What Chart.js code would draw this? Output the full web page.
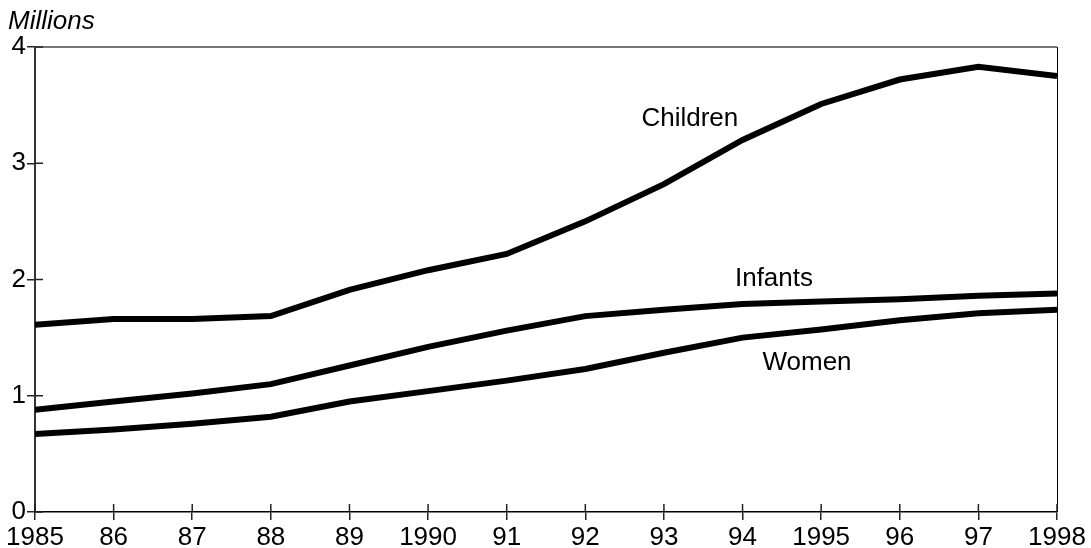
<!DOCTYPE html>
<html>
<head>
<meta charset="utf-8">
<script src="https://cdn.jsdelivr.net/npm/chart.js@4/dist/chart.umd.min.js"></script>
<style>
  html, body { margin: 0; padding: 0; background: #fff; }
  canvas { display: block; }
</style>
</head>
<body>
<canvas id="chart" width="1091" height="548"></canvas>
<script>
const years = [1985, 1986, 1987, 1988, 1989, 1990, 1991, 1992, 1993, 1994, 1995, 1996, 1997, 1998];
const yearLabels = ["1985", "86", "87", "88", "89", "1990", "91", "92", "93", "94", "1995", "96", "97", "1998"];
const children = [1.61, 1.66, 1.66, 1.685, 1.91, 2.08, 2.22, 2.50, 2.82, 3.20, 3.51, 3.72, 3.83, 3.75];
const infants = [0.88, 0.95, 1.02, 1.10, 1.26, 1.42, 1.56, 1.685, 1.74, 1.79, 1.81, 1.83, 1.86, 1.88];
const women = [0.67, 0.71, 0.76, 0.82, 0.95, 1.04, 1.13, 1.23, 1.37, 1.50, 1.57, 1.65, 1.71, 1.74];

// series name, x (year) and y (millions) where its label sits
const seriesLabels = [
  { text: "Children", x: 1993.33, y: 3.38 },
  { text: "Infants", x: 1994.4, y: 2.01 },
  { text: "Women", x: 1994.82, y: 1.28 },
];

const FONT = "'Liberation Sans', Arial, sans-serif";

const toPoints = (vals) => vals.map((v, i) => ({ x: years[i], y: v }));

const line = (vals) => ({
  data: toPoints(vals),
  borderColor: "#000",
  borderWidth: 6,
  pointRadius: 0,
  tension: 0,
  fill: false,
});

const framePlugin = {
  id: "frame",
  afterDraw(chart) {
    const { ctx, chartArea: a, scales } = chart;
    ctx.save();
    // top rule and right edge
    ctx.strokeStyle = "#777";
    ctx.lineWidth = 2;
    ctx.beginPath();
    ctx.moveTo(a.left, a.top);
    ctx.lineTo(a.right, a.top);
    ctx.stroke();
    ctx.strokeStyle = "#000";
    ctx.lineWidth = 1;
    ctx.beginPath();
    ctx.moveTo(a.right + 0.5, a.top);
    ctx.lineTo(a.right + 0.5, a.bottom);
    ctx.stroke();
    // inner halves of the crossing ticks
    ctx.lineWidth = 1.5;
    ctx.strokeStyle = "#222";
    scales.y.ticks.forEach((t) => {
      const py = scales.y.getPixelForValue(t.value);
      ctx.beginPath();
      ctx.moveTo(a.left, py);
      ctx.lineTo(a.left + 8, py);
      ctx.stroke();
    });
    scales.x.ticks.forEach((t) => {
      const px = scales.x.getPixelForValue(t.value);
      ctx.beginPath();
      ctx.moveTo(px, a.bottom);
      ctx.lineTo(px, a.bottom - 8);
      ctx.stroke();
    });
    // unit label
    ctx.fillStyle = "#000";
    ctx.font = "italic 26px " + FONT;
    ctx.textAlign = "left";
    ctx.textBaseline = "alphabetic";
    ctx.fillText("Millions", 8, 29);
    // series names
    ctx.font = "26px " + FONT;
    ctx.textAlign = "center";
    ctx.textBaseline = "middle";
    seriesLabels.forEach((s) => {
      ctx.fillText(s.text, scales.x.getPixelForValue(s.x), scales.y.getPixelForValue(s.y));
    });
    ctx.restore();
  },
};

new Chart(document.getElementById("chart"), {
  type: "line",
  data: {
    datasets: [line(children), line(infants), line(women)],
  },
  options: {
    responsive: false,
    animation: false,
    layout: { padding: { top: 47, right: 34, left: 0, bottom: 0 } },
    plugins: { legend: { display: false }, tooltip: { enabled: false } },
    scales: {
      x: {
        type: "linear",
        min: 1985,
        max: 1998,
        afterFit: (s) => { s.height = 36; },
        afterBuildTicks: (s) => { s.ticks = years.map((y) => ({ value: y })); },
        ticks: {
          color: "#000",
          font: { family: FONT, size: 26 },
          padding: 2,
          maxRotation: 0,
          autoSkip: false,
          callback: (v) => yearLabels[years.indexOf(v)],
        },
        grid: { drawOnChartArea: false, tickLength: 8, color: "#222", lineWidth: 1.5 },
        border: { color: "#000", width: 1.5 },
      },
      y: {
        min: 0,
        max: 4,
        afterFit: (s) => { s.width = 35; },
        ticks: {
          stepSize: 1,
          color: "#000",
          font: { family: FONT, size: 26 },
          padding: 1,
        },
        grid: { drawOnChartArea: false, tickLength: 8, color: "#222", lineWidth: 1.5 },
        border: { color: "#333", width: 2 },
      },
    },
  },
  plugins: [framePlugin],
});
</script>
</body>
</html>
